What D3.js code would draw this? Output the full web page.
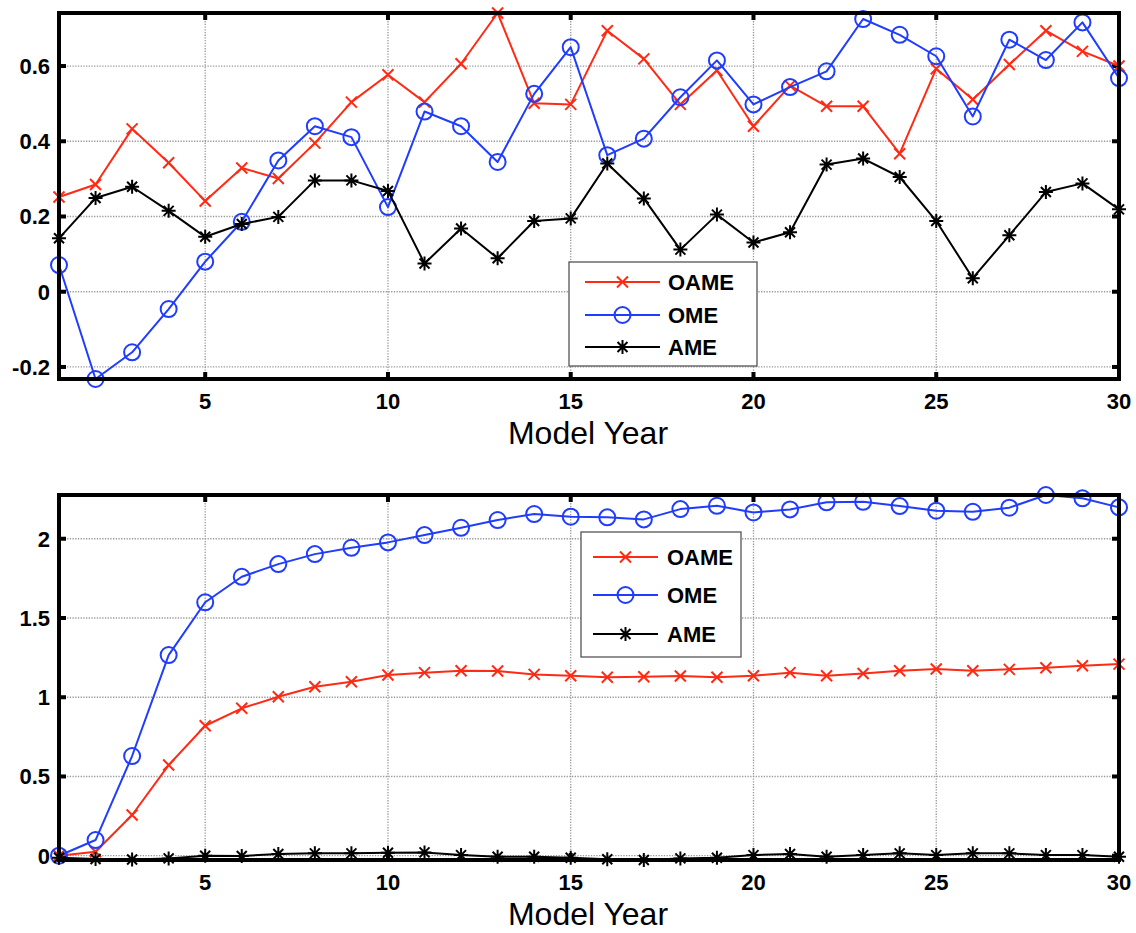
<!DOCTYPE html>
<html>
<head>
<meta charset="utf-8">
<script src="https://cdn.jsdelivr.net/npm/d3@7"></script>
<style>
  html, body { margin: 0; padding: 0; background: #fff; }
  svg { display: block; }
  text { font-family: "Liberation Sans", Arial, Helvetica, sans-serif; }
</style>
</head>
<body>
<script>
// Model years on the x axis
const years = [1,2,3,4,5,6,7,8,9,10,11,12,13,14,15,16,17,18,19,20,21,22,23,24,25,26,27,28,29,30];
const xTicks = [5, 10, 15, 20, 25, 30];

// Upper panel: year-by-year values
const oameTop = [0.252,0.285,0.433,0.343,0.241,0.329,0.301,0.395,0.504,0.577,
                 0.504,0.606,0.741,0.501,0.498,0.694,0.619,0.498,0.588,0.440,
                 0.548,0.493,0.493,0.367,0.593,0.511,0.604,0.694,0.639,0.600];
const omeTop  = [0.071,-0.232,-0.161,-0.046,0.080,0.186,0.349,0.440,0.411,0.225,
                 0.479,0.440,0.345,0.526,0.650,0.363,0.407,0.517,0.615,0.498,
                 0.544,0.586,0.725,0.683,0.626,0.466,0.670,0.616,0.716,0.568];
const ameTop  = [0.142,0.249,0.279,0.215,0.146,0.180,0.199,0.296,0.296,0.268,
                 0.075,0.168,0.089,0.188,0.195,0.341,0.248,0.112,0.205,0.131,
                 0.158,0.338,0.354,0.305,0.188,0.036,0.150,0.265,0.288,0.219];
const yTicksTop = [-0.2, 0, 0.2, 0.4, 0.6];
const yLabelsTop = ["-0.2", "0", "0.2", "0.4", "0.6"];

// Lower panel: accumulated values
const oameBot = [0.000,0.025,0.257,0.572,0.820,0.930,1.003,1.066,1.098,1.140,
                 1.155,1.167,1.165,1.144,1.136,1.126,1.129,1.134,1.126,1.136,
                 1.155,1.136,1.150,1.167,1.178,1.167,1.176,1.186,1.199,1.209];
const omeBot  = [0.000,0.099,0.629,1.266,1.599,1.760,1.840,1.903,1.943,1.977,
                 2.023,2.069,2.118,2.156,2.139,2.135,2.122,2.187,2.208,2.166,
                 2.185,2.230,2.233,2.206,2.177,2.170,2.196,2.276,2.255,2.198];
const ameBot  = [-0.013,-0.021,-0.024,-0.017,0.000,-0.002,0.011,0.015,0.015,0.019,
                 0.021,0.004,-0.006,-0.006,-0.013,-0.022,-0.027,-0.017,-0.013,0.004,
                 0.011,-0.006,0.004,0.015,0.004,0.015,0.015,0.004,0.004,-0.006];
const yTicksBot = [0, 0.5, 1, 1.5, 2];
const yLabelsBot = ["0", "0.5", "1", "1.5", "2"];

const seriesNames = ["OAME", "OME", "AME"];
const seriesColors = ["#ff2a14", "#1f3cff", "#000000"];
const seriesMarkers = ["x", "o", "*"];

const W = 1136, H = 933;
const svg = d3.select("body").append("svg").attr("width", W).attr("height", H);
svg.append("rect").attr("width", W).attr("height", H).attr("fill", "#fff");

// Marker shapes in the style of MATLAB's 'x', 'o', '*'
function drawMarker(g, type, color, cx, cy) {
  if (type === "o") {
    g.append("circle").attr("cx", cx).attr("cy", cy).attr("r", 8)
      .attr("fill", "none").attr("stroke", color).attr("stroke-width", 2);
  } else if (type === "x") {
    const s = 5.5;
    g.append("path")
      .attr("d", `M${cx - s},${cy - s}L${cx + s},${cy + s}M${cx - s},${cy + s}L${cx + s},${cy - s}`)
      .attr("stroke", color).attr("stroke-width", 2).attr("fill", "none");
  } else {
    const s = 7, d = 5;
    g.append("path")
      .attr("d", `M${cx - s},${cy}L${cx + s},${cy}M${cx},${cy - s}L${cx},${cy + s}` +
                 `M${cx - d},${cy - d}L${cx + d},${cy + d}M${cx - d},${cy + d}L${cx + d},${cy - d}`)
      .attr("stroke", color).attr("stroke-width", 2).attr("fill", "none");
  }
}

function panel(opts) {
  const { left, right, top, bottom, series, yTicks, yLabels, legend } = opts;
  const g = svg.append("g");
  const x = d3.scaleLinear().domain(d3.extent(years)).range([left, right]);
  const allVals = series.flat();
  const y = d3.scaleLinear().domain(d3.extent(allVals)).range([bottom, top]);

  // dotted grid
  const grid = g.append("g").attr("stroke", "#999").attr("stroke-width", 1.3)
    .attr("stroke-dasharray", "1.3,1.4");
  xTicks.forEach(t => {
    grid.append("line").attr("x1", x(t)).attr("x2", x(t)).attr("y1", top).attr("y2", bottom);
  });
  yTicks.forEach(t => {
    grid.append("line").attr("x1", left).attr("x2", right).attr("y1", y(t)).attr("y2", y(t));
  });

  // inward tick marks on all four sides
  const tl = 7;
  const ticks = g.append("g").attr("stroke", "#000").attr("stroke-width", 4);
  xTicks.forEach(t => {
    ticks.append("line").attr("x1", x(t)).attr("x2", x(t)).attr("y1", bottom).attr("y2", bottom - tl);
    ticks.append("line").attr("x1", x(t)).attr("x2", x(t)).attr("y1", top).attr("y2", top + tl);
  });
  yTicks.forEach(t => {
    ticks.append("line").attr("x1", left).attr("x2", left + tl).attr("y1", y(t)).attr("y2", y(t));
    ticks.append("line").attr("x1", right).attr("x2", right - tl).attr("y1", y(t)).attr("y2", y(t));
  });

  // tick labels
  xTicks.forEach(t => {
    g.append("text").attr("x", x(t)).attr("y", bottom + 30)
      .attr("text-anchor", "middle").attr("font-size", 22).attr("font-weight", "bold")
      .text(String(t));
  });
  yTicks.forEach((t, i) => {
    g.append("text").attr("x", left - 9).attr("y", y(t)).attr("dy", "0.36em")
      .attr("text-anchor", "end").attr("font-size", 22).attr("font-weight", "bold")
      .text(yLabels[i]);
  });

  // axis title
  g.append("text").attr("x", (left + right) / 2 - 1).attr("y", bottom + 65)
    .attr("text-anchor", "middle").attr("font-size", 32).text("Model Year");

  // data lines then markers, in plotting order
  const line = d3.line().x((d, i) => x(years[i])).y(d => y(d));
  series.forEach((vals, k) => {
    g.append("path").attr("d", line(vals)).attr("fill", "none")
      .attr("stroke", seriesColors[k]).attr("stroke-width", 2).attr("stroke-linejoin", "round");
    const mg = g.append("g");
    vals.forEach((v, i) => drawMarker(mg, seriesMarkers[k], seriesColors[k], x(years[i]), y(v)));
  });

  // axes box
  g.append("rect").attr("x", left).attr("y", top).attr("width", right - left).attr("height", bottom - top)
    .attr("fill", "none").attr("stroke", "#000").attr("stroke-width", 4);

  // legend
  const lg = g.append("g");
  lg.append("rect").attr("x", legend.x0).attr("y", legend.y0)
    .attr("width", legend.x1 - legend.x0).attr("height", legend.y1 - legend.y0)
    .attr("fill", "#fff").attr("stroke", "#555").attr("stroke-width", 1.3);
  seriesNames.forEach((name, k) => {
    const ly = legend.rows[k];
    lg.append("line").attr("x1", legend.lx0).attr("x2", legend.lx1).attr("y1", ly).attr("y2", ly)
      .attr("stroke", seriesColors[k]).attr("stroke-width", 2);
    drawMarker(lg, seriesMarkers[k], seriesColors[k], (legend.lx0 + legend.lx1) / 2, ly);
    lg.append("text").attr("x", legend.tx).attr("y", ly).attr("dy", "0.36em")
      .attr("font-size", 22).attr("font-weight", "bold").text(name);
  });
}

panel({
  left: 59, right: 1119, top: 13, bottom: 379,
  series: [oameTop, omeTop, ameTop],
  yTicks: yTicksTop, yLabels: yLabelsTop,
  legend: { x0: 569, x1: 757, y0: 262, y1: 366, rows: [282, 315, 347], lx0: 585, lx1: 660, tx: 668 }
});

panel({
  left: 59, right: 1119, top: 495, bottom: 860,
  series: [oameBot, omeBot, ameBot],
  yTicks: yTicksBot, yLabels: yLabelsBot,
  legend: { x0: 581, x1: 741, y0: 532, y1: 657, rows: [557, 595, 634], lx0: 593, lx1: 658, tx: 667 }
});
</script>
</body>
</html>
